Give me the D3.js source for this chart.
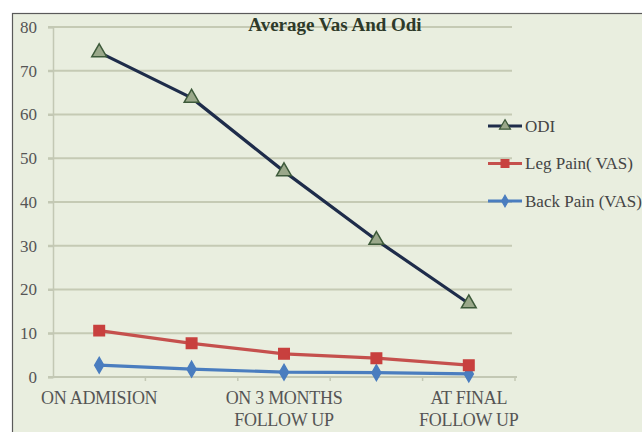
<!DOCTYPE html>
<html>
<head>
<meta charset="utf-8">
<script src="https://cdn.jsdelivr.net/npm/d3@7"></script>
<style>
  html, body { margin: 0; padding: 0; background: #fff; overflow: hidden; }
  svg { display: block; }
</style>
</head>
<body>
<div id="chart"></div>
<script>
// data
const categories = ["ON ADMISION", "", "ON 3 MONTHS|FOLLOW UP", "", "AT FINAL|FOLLOW UP"];
const odi = [74.2, 63.8, 47.0, 31.3, 16.8];
const legPain = [10.6, 7.7, 5.3, 4.3, 2.7];
const backPain = [2.7, 1.8, 1.1, 1.0, 0.7];
const yTicks = [0, 10, 20, 30, 40, 50, 60, 70, 80];
const seriesNames = ["ODI", "Leg Pain( VAS)", "Back Pain (VAS)"];

const width = 642, height = 432;
const plot = { left: 53, right: 515, top: 27, bottom: 377 };

const svg = d3.select("#chart").append("svg")
    .attr("width", width)
    .attr("height", height);

// frame
svg.append("rect")
    .attr("x", 12.5).attr("y", 13.5)
    .attr("width", 700).attr("height", 500)
    .attr("fill", "#e9eedf")
    .attr("stroke", "#5a5a5a")
    .attr("stroke-width", 1.2);

const x = d3.scaleBand()
    .domain(d3.range(categories.length))
    .range([plot.left, plot.right]);

const y = d3.scaleLinear()
    .domain([0, 80])
    .range([plot.bottom, plot.top]);

const serif = "'Liberation Serif', 'DejaVu Serif', serif";

// gridlines
svg.append("g")
  .selectAll("line")
  .data(yTicks.slice(1))
  .join("line")
    .attr("x1", plot.left - 5)
    .attr("x2", plot.right - 3)
    .attr("y1", d => y(d))
    .attr("y2", d => y(d))
    .attr("stroke", "#c5cab4")
    .attr("stroke-width", 2);

// y axis
const yAxis = svg.append("g")
    .attr("transform", `translate(${plot.left},0)`)
    .call(d3.axisLeft(y).tickValues(yTicks).tickSize(5).tickPadding(11));
yAxis.select(".domain").attr("stroke", "#c3c8b4").attr("stroke-width", 1.5);
yAxis.selectAll(".tick line").attr("stroke", "#c3c8b4").attr("stroke-width", 2);
yAxis.selectAll("text")
    .attr("font-family", serif)
    .attr("font-size", 17)
    .attr("fill", "#555");

// x axis
const xAxis = svg.append("g")
    .attr("transform", `translate(0,${plot.bottom})`)
    .call(d3.axisBottom(x).tickSize(0).tickFormat(""));
xAxis.select(".domain").attr("stroke", "#c3c8b4").attr("stroke-width", 2)
    .attr("d", `M${plot.left - 5},0H${plot.right + 2}`);

// category boundary ticks
svg.append("g")
  .selectAll("line")
  .data(d3.range(1, categories.length + 1))
  .join("line")
    .attr("x1", d => x(d - 1) + x.bandwidth())
    .attr("x2", d => x(d - 1) + x.bandwidth())
    .attr("y1", plot.bottom)
    .attr("y2", plot.bottom + 4)
    .attr("stroke", "#c3c8b4")
    .attr("stroke-width", 1.5);

// category labels
const catLabels = svg.append("g")
  .selectAll("text")
  .data(categories.map((c, i) => ({ c, i })).filter(d => d.c))
  .join("text")
    .attr("x", d => x(d.i) + x.bandwidth() / 2)
    .attr("y", plot.bottom + 27)
    .attr("text-anchor", "middle")
    .attr("font-family", serif)
    .attr("font-size", 18)
    .attr("fill", "#555")
    .attr("letter-spacing", -0.3);
catLabels.selectAll("tspan")
  .data(d => d.c.split("|"))
  .join("tspan")
    .attr("x", function() { return d3.select(this.parentNode).attr("x"); })
    .attr("dy", (d, i) => i === 0 ? 0 : 22)
    .text(d => d);

// title
svg.append("text")
    .attr("x", 335)
    .attr("y", 31)
    .attr("text-anchor", "middle")
    .attr("font-family", serif)
    .attr("font-weight", "bold")
    .attr("font-size", 19)
    .attr("fill", "#2e3a2a")
    .text("Average Vas And Odi");

// series
const series = [
  { name: seriesNames[0], values: odi, color: "#1e2c4a", marker: "triangle", mFill: "#9aa88a", mStroke: "#3d5a3a", mSize: 95 },
  { name: seriesNames[1], values: legPain, color: "#c5504d", marker: "square", mFill: "#c8403e", mStroke: "#c8403e", mSize: 110 },
  { name: seriesNames[2], values: backPain, color: "#4a7dbf", marker: "diamond", mFill: "#4a7dbf", mStroke: "#4a7dbf", mSize: 70 }
];

const symbolType = { triangle: d3.symbolTriangle, square: d3.symbolSquare, diamond: d3.symbolDiamond };

const line = d3.line()
    .x((d, i) => x(i) + x.bandwidth() / 2)
    .y(d => y(d));

series.slice().reverse().forEach(s => {
  svg.append("path")
      .datum(s.values)
      .attr("fill", "none")
      .attr("stroke", s.color)
      .attr("stroke-width", 3.2)
      .attr("stroke-linejoin", "round")
      .attr("d", line);

  svg.append("g")
    .selectAll("path")
    .data(s.values)
    .join("path")
      .attr("transform", (d, i) => `translate(${x(i) + x.bandwidth() / 2},${y(d)})`)
      .attr("d", d3.symbol().type(symbolType[s.marker]).size(s.mSize))
      .attr("fill", s.mFill)
      .attr("stroke", s.mStroke)
      .attr("stroke-width", 1.5);
});

// legend
const legend = svg.append("g")
  .selectAll("g")
  .data(series)
  .join("g")
    .attr("transform", (d, i) => `translate(488,${126 + i * 37.5})`);

legend.append("line")
    .attr("x1", 0).attr("x2", 34)
    .attr("stroke", d => d.color)
    .attr("stroke-width", 3);

legend.append("path")
    .attr("transform", "translate(17,0)")
    .attr("d", d => d3.symbol().type(symbolType[d.marker]).size(d.mSize * 0.55)())
    .attr("fill", d => d.mFill)
    .attr("stroke", d => d.mStroke)
    .attr("stroke-width", 1.2);

legend.append("text")
    .attr("x", 37)
    .attr("y", 0)
    .attr("dy", "0.35em")
    .attr("font-family", serif)
    .attr("font-size", 17)
    .attr("fill", "#444")
    .text(d => d.name);
</script>
</body>
</html>
